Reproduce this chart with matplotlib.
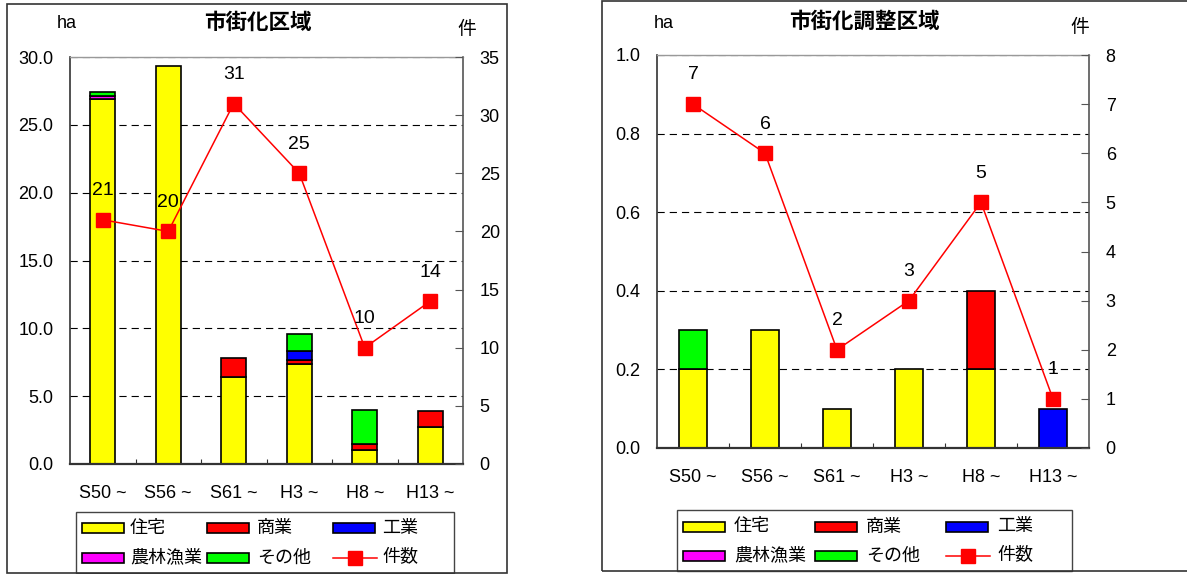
import matplotlib
matplotlib.use('Agg')
import matplotlib.pyplot as plt
import numpy as np
from matplotlib.patches import Rectangle
from matplotlib.lines import Line2D
from matplotlib.ticker import FormatStrFormatter, MultipleLocator, FixedLocator

plt.rcParams['font.family'] = ['Liberation Sans', 'Noto Sans CJK JP']

# ---- data -----------------------------------------------------------
periods = ['S50 ~', 'S56 ~', 'S61 ~', 'H3 ~', 'H8 ~', 'H13 ~']
uses = ['住宅', '商業', '工業', '農林漁業', 'その他']
use_colors = ['#FFFF00', '#FF0000', '#0000FF', '#FF00FF', '#00FF00']
count_label = '件数'

# 市街化区域 (ha)
urban_title = '市街化区域'
urban_housing = [26.9, 29.3, 6.4, 7.4, 1.0, 2.7]
urban_commerce = [0.0, 0.0, 1.4, 0.3, 0.5, 1.2]
urban_industry = [0.0, 0.0, 0.0, 0.6, 0.0, 0.0]
urban_agri = [0.2, 0.0, 0.0, 0.0, 0.0, 0.0]
urban_other = [0.3, 0.0, 0.0, 1.3, 2.5, 0.0]
urban_counts = [21, 20, 31, 25, 10, 14]

# 市街化調整区域 (ha)
adj_title = '市街化調整区域'
adj_housing = [0.2, 0.3, 0.1, 0.2, 0.2, 0.0]
adj_commerce = [0.0, 0.0, 0.0, 0.0, 0.2, 0.0]
adj_industry = [0.0, 0.0, 0.0, 0.0, 0.0, 0.1]
adj_agri = [0.0, 0.0, 0.0, 0.0, 0.0, 0.0]
adj_other = [0.1, 0.0, 0.0, 0.0, 0.0, 0.0]
adj_counts = [7, 6, 2, 3, 5, 1]

# ---- figure ---------------------------------------------------------
W, H = 1187, 574
fig = plt.figure(figsize=(W / 100, H / 100), dpi=100)


def fx(px):
    return px / W


def fy(py):
    return 1 - py / H


def panel(rect, series, counts, ylim, ystep, yfmt, y2lim, bar_w, title, title_xy,
          ha_xy, ken_xy):
    x0, y0, x1, y1 = rect
    ax = fig.add_axes([fx(x0), fy(y1), fx(x1 - x0), (y1 - y0) / H])
    x = np.arange(len(periods))
    bottom = np.zeros(len(periods))
    for vals, col in zip(series, use_colors):
        v = np.asarray(vals, dtype=float)
        m = v > 0
        ax.bar(x[m], v[m], bar_w, bottom=bottom[m], color=col,
               edgecolor='black', linewidth=1.2, zorder=2)
        bottom += v
    ax.set_xlim(-0.5, len(periods) - 0.5)
    ax.set_ylim(*ylim)
    ax.yaxis.set_major_locator(MultipleLocator(ystep))
    ax.yaxis.set_major_formatter(FormatStrFormatter(yfmt))
    ax.set_axisbelow(True)
    ax.grid(axis='y', color='black', linewidth=0.8, linestyle=(0, (6.5, 4.5)))
    ax.tick_params(axis='y', length=0, pad=12, labelsize=13)
    ax.set_xticks(x)
    ax.set_xticklabels(periods)
    ax.tick_params(axis='x', which='major', length=0, pad=15, labelsize=13)
    ax.xaxis.set_minor_locator(FixedLocator(np.arange(0.5, len(periods) - 1, 1.0)))
    ax.tick_params(axis='x', which='minor', direction='in', length=3.5,
                   width=0.8, color='#333333')
    ax.spines['left'].set_color('#333333')
    ax.spines['left'].set_linewidth(1.2)
    ax.spines['bottom'].set_color('#333333')
    ax.spines['bottom'].set_linewidth(1.6)
    ax.spines['top'].set_color('#999999')
    ax.spines['top'].set_linewidth(1.0)
    ax.spines['right'].set_color('#555555')
    ax.spines['right'].set_linewidth(1.2)

    ax2 = ax.twinx()
    ax2.set_ylim(*y2lim)
    ax2.yaxis.set_major_locator(MultipleLocator(5 if y2lim[1] > 10 else 1))
    ax2.tick_params(axis='y', direction='in', length=6, width=0.8,
                    color='#555555', pad=12, labelsize=13)
    for s in ax2.spines.values():
        s.set_visible(False)
    ax2.plot(x, counts, color='#FF0000', linewidth=1.1, marker='s',
             markersize=10.5, markerfacecolor='#FF0000',
             markeredgecolor='#FF0000', zorder=3)
    for xi, c in zip(x, counts):
        ax2.annotate(str(c), (xi, c), xytext=(0, 21), textcoords='offset points',
                     ha='center', va='center', fontsize=14)

    fig.text(fx(title_xy[0]), fy(title_xy[1]), title, ha='center', va='center',
             fontsize=15.5, fontweight='bold')
    fig.text(fx(ha_xy[0]), fy(ha_xy[1]), 'ha', ha='center', va='center', fontsize=13)
    fig.text(fx(ken_xy[0]), fy(ken_xy[1]), '件', ha='center', va='center', fontsize=13.5)
    return ax


def legend_block(box, hx, tx, rows):
    bx0, by0, bx1, by1 = box
    fig.patches.append(Rectangle((fx(bx0), fy(by1)), fx(bx1 - bx0), (by1 - by0) / H,
                                 transform=fig.transFigure, facecolor='white',
                                 edgecolor='#444444', linewidth=1.0, zorder=5))
    entries = list(zip(uses, use_colors)) + [(count_label, None)]
    for i, (lab, col) in enumerate(entries):
        r, c = divmod(i, 3)
        yc = rows[r]
        if col is not None:
            fig.patches.append(Rectangle((fx(hx[c]), fy(yc + 5)), fx(42), 10 / H,
                                         transform=fig.transFigure, facecolor=col,
                                         edgecolor='black', linewidth=1.2, zorder=6))
        else:
            fig.lines.append(Line2D([fx(hx[c]), fx(hx[c] + 44)], [fy(yc), fy(yc)],
                                    transform=fig.transFigure, color='#FF0000',
                                    linewidth=1.1, zorder=6))
            fig.lines.append(Line2D([fx(hx[c] + 22)], [fy(yc)], transform=fig.transFigure,
                                    marker='s', markersize=10.5, color='#FF0000',
                                    linestyle='none', zorder=7))
        fig.text(fx(tx[c]), fy(yc), lab, ha='left', va='center', fontsize=13, zorder=7)


def frame(x0, y0, x1, y1):
    fig.patches.append(Rectangle((fx(x0), fy(y1)), fx(x1 - x0), (y1 - y0) / H,
                                 transform=fig.transFigure, facecolor='none',
                                 edgecolor='#333333', linewidth=1.2, zorder=10))


frame(7, 4, 507, 573)
frame(602, 1, 1195, 571)

panel((70, 57, 463, 464),
      [urban_housing, urban_commerce, urban_industry, urban_agri, urban_other],
      urban_counts, (0, 30), 5, '%.1f', (0, 35), 0.38,
      urban_title, (258, 23), (67, 23), (467, 30))

panel((657, 55, 1089, 448),
      [adj_housing, adj_commerce, adj_industry, adj_agri, adj_other],
      adj_counts, (0, 1.0), 0.2, '%.1f', (0, 8), 0.40,
      adj_title, (864, 22), (664, 23), (1080, 28))

legend_block((76, 512, 454, 573), [82, 207, 333], [130, 257, 382], [528, 558])
legend_block((677, 510, 1072, 571), [683, 815, 946], [734, 866, 997], [527, 556])

fig.savefig('out.png', dpi=100)
